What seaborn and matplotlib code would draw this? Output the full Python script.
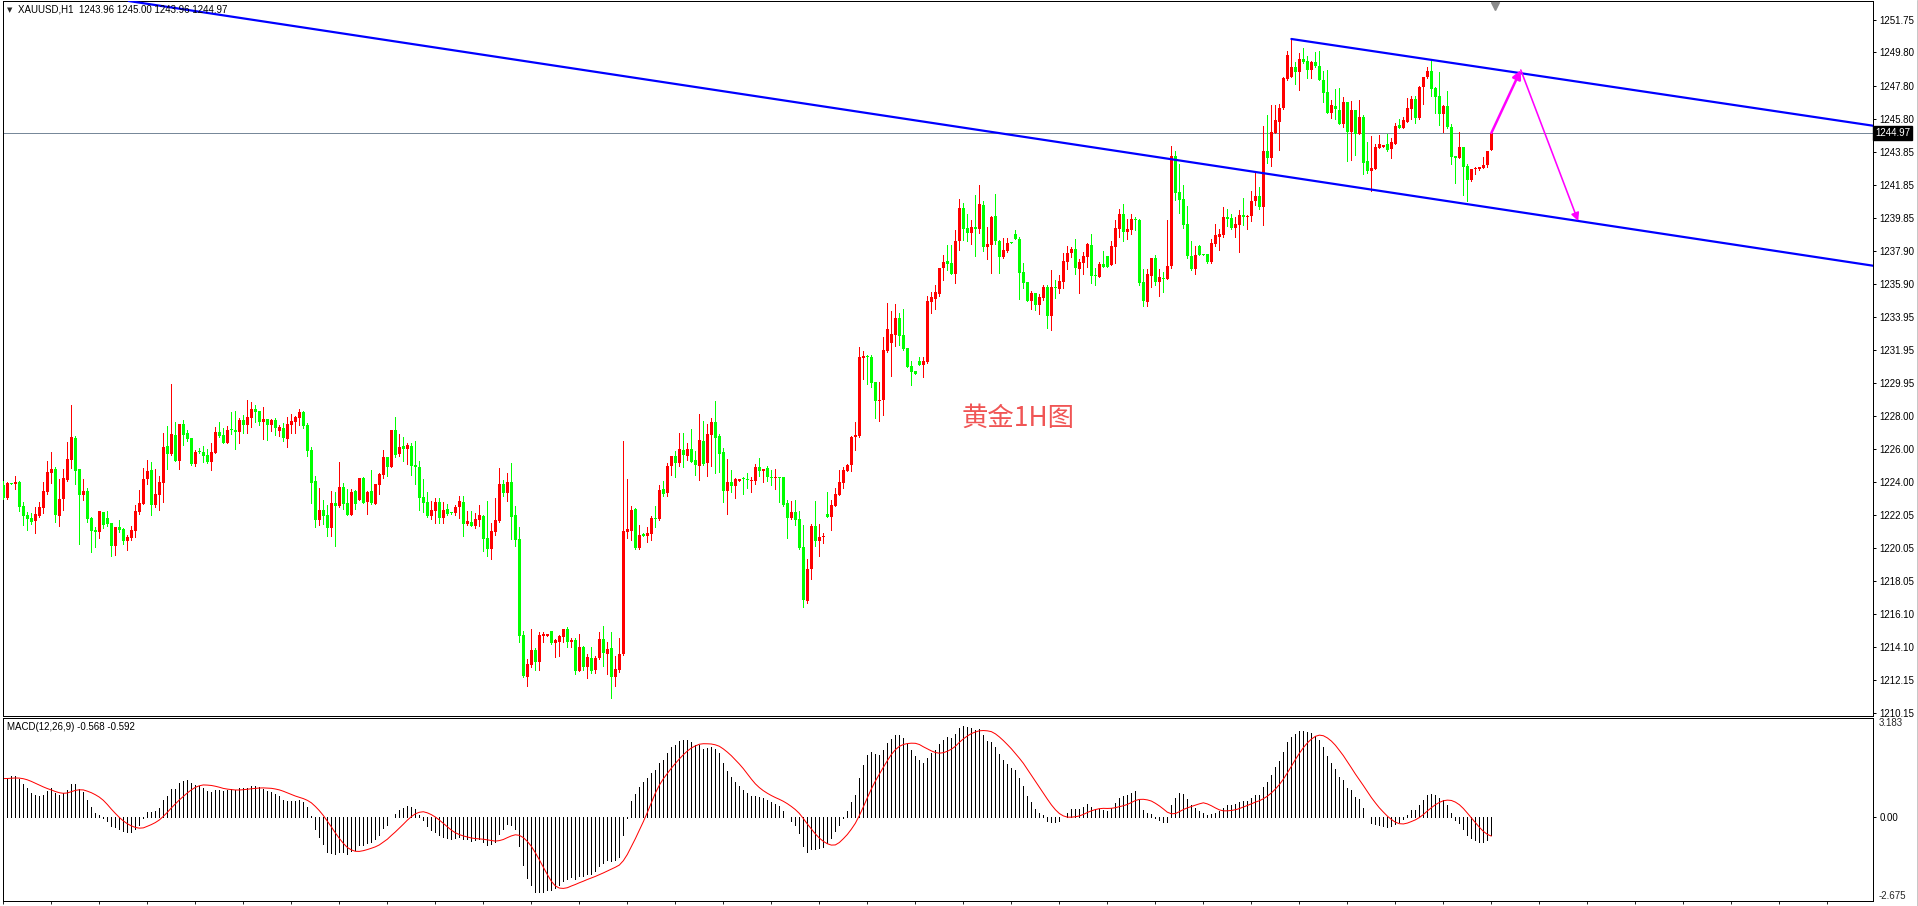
import matplotlib
matplotlib.use("Agg")
import matplotlib.pyplot as plt
import matplotlib.transforms as mtransforms
from matplotlib.lines import Line2D
import numpy as np
import pandas as pd
import seaborn as sns

# XAUUSD H1 candles (oldest -> newest)
opens = [
    1223.84, 1223.08, 1223.96, 1223.90, 1224.02, 1222.58, 1222.04, 1221.86, 1221.70, 1222.00,
    1222.48, 1223.42, 1224.58, 1224.80, 1222.00, 1223.02, 1224.14, 1225.36, 1226.66, 1224.80,
    1223.26, 1223.48, 1221.86, 1221.14, 1221.04, 1222.22, 1221.86, 1221.56, 1220.20, 1221.32,
    1221.20, 1220.50, 1220.68, 1221.10, 1222.24, 1222.72, 1224.22, 1224.74, 1222.64, 1223.26,
    1223.98, 1226.18, 1225.72, 1226.84, 1225.30, 1227.50, 1226.96, 1226.66, 1225.10, 1225.90,
    1225.82, 1225.64, 1225.24, 1225.78, 1227.02, 1226.84, 1226.36, 1227.20, 1227.14, 1227.02,
    1227.74, 1227.44, 1227.86, 1228.40, 1228.28, 1227.62, 1227.80, 1227.44, 1227.74, 1227.08,
    1227.26, 1226.60, 1227.44, 1227.62, 1227.86, 1228.22, 1227.44, 1225.94, 1224.08, 1221.74,
    1222.34, 1222.04, 1221.28, 1222.76, 1222.60, 1223.72, 1222.76, 1222.04, 1223.48, 1222.96,
    1224.26, 1222.84, 1223.48, 1222.72, 1223.86,
    1224.45, 1225.53, 1224.93, 1227.15, 1225.71, 1226.19, 1226.01, 1226.19, 1225.05, 1224.93,
    1223.13, 1222.83, 1221.99, 1222.29, 1222.83, 1221.87, 1222.41, 1222.21, 1222.17, 1222.53,
    1222.83, 1221.51, 1221.63, 1221.39, 1221.75, 1221.99, 1220.67, 1220.01, 1221.03, 1221.69,
    1223.91, 1223.37, 1224.03, 1222.05, 1220.61, 1214.85, 1212.33, 1213.05, 1213.95, 1213.23,
    1214.79, 1214.79, 1215.09, 1214.37, 1214.43, 1214.73, 1215.21, 1214.43, 1214.55, 1212.69,
    1214.13, 1212.93, 1213.47, 1212.75, 1213.47, 1214.61, 1213.71, 1214.07, 1212.33, 1212.75,
    1213.71, 1221.03, 1221.09, 1222.41, 1220.07, 1220.91, 1220.79, 1220.91, 1221.87, 1221.81,
    1223.61, 1223.37, 1224.99, 1225.59, 1225.17, 1225.95, 1225.59, 1226.01, 1225.35, 1224.99,
    1226.49, 1225.17, 1226.85, 1227.63, 1226.79, 1225.83, 1223.49, 1224.03, 1223.79, 1224.09,
    1224.23, 1224.17, 1224.09, 1224.09, 1224.93,
    1224.69, 1224.87, 1224.33, 1224.25, 1224.33, 1224.33, 1222.77, 1221.87, 1222.23, 1221.81,
    1220.13, 1216.89, 1218.81, 1221.39, 1220.49, 1220.73, 1222.11, 1221.93, 1222.59, 1223.25,
    1223.97, 1224.69, 1225.05, 1226.73, 1226.79, 1231.47, 1231.59, 1231.53, 1230.03, 1228.89,
    1228.95, 1231.89, 1232.37, 1232.85, 1233.87, 1232.85, 1232.07, 1230.99, 1230.69, 1231.29,
    1231.05, 1231.23, 1234.83, 1235.01, 1235.31, 1236.87, 1237.29, 1237.17, 1236.51, 1238.49,
    1240.47, 1239.27, 1238.97, 1239.33, 1239.21, 1240.65, 1238.13, 1238.25, 1239.99, 1238.49,
    1237.53, 1237.89, 1238.43, 1238.91, 1238.61, 1236.63, 1236.03, 1234.89, 1235.37, 1234.65,
    1235.07, 1235.73, 1233.99, 1235.73, 1235.61, 1236.03, 1237.23, 1237.77, 1238.01, 1236.81,
    1237.17, 1237.53, 1238.25, 1236.45, 1236.33, 1237.11, 1237.59, 1237.05, 1238.13, 1239.21,
    1240.11, 1239.03, 1239.15, 1239.81, 1239.75,
    1236.03, 1234.83, 1236.39, 1237.47, 1236.03, 1236.27, 1236.21, 1236.99, 1243.59, 1241.43,
    1241.01, 1239.51, 1237.59, 1236.81, 1238.19, 1237.71, 1237.71, 1237.23, 1238.31, 1238.73,
    1238.85, 1239.93, 1239.87, 1239.27, 1239.45, 1240.05, 1239.93, 1239.99, 1240.89, 1241.19,
    1240.53, 1243.89, 1243.47, 1244.97, 1245.63, 1246.47, 1248.21, 1248.33, 1248.93, 1248.63,
    1249.41, 1249.29, 1248.75, 1249.23, 1248.99, 1248.15, 1247.43, 1246.17, 1246.59, 1246.35,
    1245.51, 1246.83, 1245.03, 1246.35, 1244.91, 1245.93, 1243.29, 1242.69, 1242.81, 1244.07,
    1244.13, 1244.31, 1244.01, 1244.31, 1245.45, 1245.27, 1245.63, 1246.41, 1247.01, 1245.87,
    1247.73, 1248.33, 1248.69, 1247.67, 1247.19, 1246.11, 1246.59, 1245.33, 1243.59, 1243.47,
    1244.13, 1242.99, 1242.15, 1242.81, 1242.81, 1242.87, 1243.05, 1243.96,
]
highs = [
    1224.10, 1224.04, 1223.98, 1224.38, 1224.08, 1222.82, 1222.22, 1222.14, 1222.52, 1222.82,
    1224.02, 1225.28, 1225.82, 1224.90, 1224.20, 1224.80, 1226.42, 1228.64, 1226.78, 1224.80,
    1224.20, 1223.66, 1221.94, 1221.34, 1222.28, 1222.22, 1222.28, 1221.56, 1221.32, 1221.74,
    1221.24, 1220.86, 1221.40, 1222.66, 1223.56, 1224.86, 1225.34, 1225.22, 1224.80, 1224.38,
    1226.96, 1227.38, 1229.90, 1227.62, 1227.50, 1227.74, 1227.14, 1226.66, 1225.94, 1226.06,
    1226.18, 1226.00, 1226.36, 1227.32, 1227.62, 1227.26, 1227.38, 1228.22, 1228.28, 1227.86,
    1228.04, 1228.94, 1228.82, 1228.64, 1228.28, 1228.52, 1227.80, 1227.80, 1227.86, 1227.44,
    1227.56, 1227.92, 1228.10, 1227.98, 1228.40, 1228.28, 1227.56, 1226.12, 1224.38, 1223.66,
    1222.94, 1222.64, 1223.48, 1223.42, 1225.22, 1223.96, 1223.60, 1223.60, 1223.54, 1224.26,
    1224.32, 1223.48, 1224.74, 1223.90, 1224.56,
    1225.95, 1225.53, 1227.15, 1227.93, 1226.91, 1226.73, 1226.37, 1226.37, 1226.49, 1225.29,
    1224.21, 1223.43, 1222.89, 1223.07, 1223.07, 1222.83, 1222.71, 1222.23, 1222.65, 1223.19,
    1223.19, 1222.29, 1222.29, 1222.17, 1222.65, 1222.05, 1222.89, 1221.57, 1223.07, 1224.87,
    1224.15, 1224.57, 1225.17, 1222.59, 1221.33, 1215.09, 1213.41, 1215.21, 1214.07, 1215.03,
    1215.03, 1214.91, 1215.09, 1214.61, 1214.85, 1215.21, 1215.33, 1214.67, 1214.67, 1214.91,
    1214.19, 1213.71, 1214.13, 1213.59, 1215.03, 1215.39, 1214.43, 1215.03, 1213.59, 1214.67,
    1226.49, 1224.21, 1222.59, 1222.47, 1221.45, 1220.97, 1221.33, 1221.99, 1222.59, 1223.85,
    1224.09, 1225.17, 1225.59, 1225.89, 1226.97, 1226.97, 1226.37, 1227.21, 1225.89, 1228.11,
    1227.69, 1227.51, 1227.87, 1228.89, 1226.91, 1226.07, 1225.41, 1224.75, 1224.27, 1224.21,
    1224.33, 1224.57, 1224.33, 1225.11, 1225.47,
    1224.81, 1224.99, 1224.75, 1224.81, 1224.33, 1224.33, 1222.95, 1222.89, 1222.95, 1222.29,
    1221.45, 1219.41, 1221.51, 1222.89, 1221.51, 1220.97, 1223.43, 1222.95, 1223.67, 1224.75,
    1224.93, 1225.11, 1226.79, 1227.63, 1232.13, 1231.89, 1231.65, 1231.65, 1230.03, 1230.03,
    1232.73, 1234.77, 1234.29, 1234.71, 1234.17, 1234.41, 1232.07, 1231.29, 1230.69, 1231.53,
    1231.53, 1235.19, 1235.43, 1235.85, 1236.87, 1237.65, 1238.25, 1238.25, 1239.15, 1241.01,
    1240.77, 1240.11, 1239.75, 1241.25, 1241.85, 1240.89, 1239.33, 1239.99, 1241.31, 1238.55,
    1238.67, 1238.67, 1238.43, 1239.15, 1238.73, 1237.17, 1236.03, 1235.49, 1235.37, 1235.31,
    1235.85, 1235.85, 1236.75, 1236.15, 1236.45, 1237.77, 1238.19, 1238.13, 1238.61, 1237.41,
    1237.83, 1238.37, 1238.91, 1236.87, 1237.23, 1237.89, 1237.59, 1238.49, 1239.75, 1240.41,
    1240.71, 1239.81, 1240.11, 1239.93, 1239.81,
    1236.81, 1236.81, 1237.47, 1237.65, 1236.81, 1236.63, 1239.75, 1244.19, 1243.89, 1243.11,
    1241.85, 1240.59, 1238.49, 1238.19, 1238.25, 1237.71, 1237.71, 1238.61, 1239.51, 1239.21,
    1240.53, 1240.41, 1240.11, 1239.93, 1240.35, 1241.07, 1240.05, 1241.49, 1242.69, 1241.73,
    1245.39, 1246.05, 1246.65, 1246.65, 1246.71, 1248.33, 1249.89, 1250.61, 1249.23, 1249.77,
    1250.07, 1249.59, 1249.29, 1249.83, 1249.89, 1248.69, 1248.75, 1246.95, 1247.61, 1247.67,
    1247.13, 1246.83, 1246.89, 1246.35, 1246.95, 1246.05, 1244.43, 1244.79, 1244.31, 1244.85,
    1244.25, 1244.91, 1244.67, 1245.57, 1245.81, 1245.93, 1247.07, 1247.19, 1247.19, 1247.79,
    1248.33, 1248.93, 1249.41, 1247.73, 1248.63, 1246.65, 1247.49, 1245.51, 1243.59, 1245.03,
    1244.13, 1243.11, 1242.81, 1242.93, 1242.93, 1243.53, 1243.83, 1245.00,
]
lows = [
    1222.98, 1223.02, 1223.90, 1223.62, 1222.30, 1221.46, 1221.16, 1221.52, 1220.98, 1221.94,
    1222.18, 1223.32, 1223.98, 1221.64, 1221.40, 1222.36, 1224.10, 1224.88, 1223.92, 1220.32,
    1222.94, 1221.64, 1219.84, 1220.14, 1220.68, 1221.24, 1221.40, 1219.60, 1219.66, 1221.04,
    1220.32, 1219.96, 1220.56, 1220.74, 1222.12, 1222.72, 1223.92, 1222.06, 1222.54, 1222.36,
    1222.84, 1224.82, 1225.66, 1225.30, 1224.82, 1226.26, 1226.48, 1225.06, 1224.98, 1225.76,
    1225.24, 1225.18, 1224.74, 1225.78, 1226.72, 1226.36, 1226.36, 1226.92, 1226.00, 1226.36,
    1226.96, 1226.96, 1227.32, 1227.62, 1227.44, 1226.60, 1226.54, 1227.08, 1226.84, 1226.78,
    1226.48, 1226.12, 1226.96, 1226.96, 1227.44, 1227.26, 1225.58, 1222.76, 1221.32, 1221.44,
    1221.52, 1220.80, 1220.80, 1220.20, 1222.54, 1222.42, 1222.04, 1222.04, 1222.42, 1222.96,
    1222.76, 1222.12, 1222.72, 1222.72, 1223.32,
    1224.23, 1224.35, 1224.93, 1225.53, 1225.59, 1225.29, 1225.11, 1224.45, 1223.91, 1222.35,
    1222.23, 1221.93, 1221.81, 1221.57, 1221.57, 1221.57, 1222.05, 1222.11, 1222.05, 1221.87,
    1220.79, 1221.45, 1221.39, 1221.27, 1221.39, 1219.89, 1219.59, 1219.41, 1220.85, 1221.63,
    1223.19, 1222.89, 1220.61, 1220.19, 1214.43, 1212.33, 1211.79, 1212.93, 1212.75, 1212.75,
    1214.43, 1214.79, 1214.31, 1213.53, 1213.59, 1214.43, 1214.13, 1214.13, 1212.51, 1212.69,
    1212.75, 1212.27, 1212.57, 1212.57, 1213.41, 1212.99, 1212.51, 1211.07, 1211.79, 1212.63,
    1213.65, 1220.67, 1220.55, 1220.01, 1220.01, 1220.79, 1220.43, 1220.55, 1221.33, 1221.75,
    1223.19, 1223.19, 1224.45, 1224.33, 1224.99, 1224.93, 1225.35, 1225.23, 1224.45, 1224.15,
    1225.05, 1224.39, 1224.99, 1224.57, 1224.63, 1222.83, 1222.11, 1223.43, 1223.07, 1224.09,
    1223.31, 1223.67, 1223.43, 1223.91, 1224.39,
    1224.03, 1224.09, 1223.85, 1223.61, 1222.83, 1222.59, 1220.67, 1221.81, 1221.45, 1220.01,
    1216.53, 1216.77, 1218.21, 1220.19, 1219.59, 1220.37, 1221.93, 1221.15, 1222.59, 1223.25,
    1223.67, 1224.69, 1224.69, 1225.95, 1226.73, 1230.21, 1229.91, 1229.73, 1227.87, 1227.69,
    1228.05, 1231.83, 1230.39, 1232.19, 1232.25, 1231.95, 1230.93, 1229.85, 1230.51, 1231.05,
    1230.33, 1231.17, 1234.17, 1234.41, 1235.19, 1236.15, 1236.75, 1236.51, 1235.97, 1237.95,
    1238.55, 1238.49, 1238.31, 1237.59, 1238.97, 1237.89, 1237.41, 1236.57, 1238.31, 1236.57,
    1237.47, 1237.83, 1238.37, 1238.61, 1235.01, 1235.67, 1234.89, 1234.41, 1234.35, 1234.11,
    1234.95, 1233.27, 1233.15, 1235.07, 1235.37, 1235.67, 1236.81, 1237.53, 1236.51, 1235.37,
    1236.51, 1236.93, 1235.97, 1235.85, 1236.33, 1236.93, 1236.93, 1237.05, 1237.17, 1238.73,
    1238.49, 1238.61, 1238.91, 1239.15, 1235.85,
    1234.59, 1234.59, 1235.73, 1235.85, 1235.19, 1235.43, 1236.21, 1236.87, 1240.95, 1240.17,
    1239.27, 1237.47, 1236.75, 1236.51, 1237.65, 1237.65, 1237.17, 1237.17, 1238.19, 1237.95,
    1238.73, 1239.39, 1239.21, 1238.73, 1237.83, 1239.45, 1239.21, 1239.69, 1240.65, 1240.41,
    1239.45, 1243.17, 1242.99, 1244.97, 1243.95, 1246.41, 1248.15, 1248.33, 1247.91, 1247.55,
    1249.17, 1248.27, 1248.27, 1248.93, 1248.15, 1246.83, 1246.17, 1245.87, 1245.81, 1245.51,
    1245.33, 1243.29, 1243.35, 1243.65, 1244.91, 1242.51, 1242.57, 1241.49, 1242.81, 1244.07,
    1244.13, 1243.89, 1243.47, 1244.31, 1245.27, 1245.27, 1245.63, 1245.81, 1245.57, 1245.81,
    1246.71, 1248.27, 1247.19, 1246.17, 1245.45, 1245.03, 1245.27, 1243.11, 1241.97, 1243.47,
    1241.25, 1240.89, 1242.09, 1242.51, 1242.75, 1242.87, 1242.93, 1243.96,
]
closes = [
    1223.04, 1223.94, 1223.92, 1224.02, 1222.54, 1222.00, 1221.80, 1221.64, 1222.10, 1222.52,
    1223.48, 1224.62, 1224.80, 1222.04, 1223.00, 1224.26, 1225.40, 1226.72, 1224.70, 1223.26,
    1223.48, 1221.80, 1221.10, 1221.04, 1222.28, 1221.46, 1221.52, 1220.20, 1221.32, 1221.14,
    1220.50, 1220.72, 1221.14, 1222.28, 1222.76, 1224.20, 1224.68, 1222.64, 1223.30, 1224.02,
    1226.12, 1225.72, 1226.90, 1225.30, 1227.50, 1226.84, 1226.60, 1225.10, 1225.82, 1225.84,
    1225.60, 1225.24, 1225.82, 1227.02, 1226.78, 1226.36, 1227.14, 1227.14, 1227.02, 1227.74,
    1227.44, 1227.92, 1228.40, 1228.22, 1227.62, 1227.80, 1227.44, 1227.74, 1227.26, 1227.32,
    1226.66, 1227.50, 1227.68, 1227.92, 1228.22, 1227.38, 1225.88, 1223.96, 1221.74, 1222.34,
    1222.00, 1221.28, 1222.76, 1222.60, 1223.72, 1222.72, 1222.04, 1223.42, 1222.72, 1224.26,
    1222.76, 1223.42, 1222.78, 1223.90, 1224.50,
    1225.53, 1224.93, 1227.15, 1225.65, 1226.13, 1226.01, 1226.25, 1224.99, 1224.93, 1223.07,
    1222.77, 1221.99, 1222.35, 1222.83, 1221.87, 1222.35, 1222.11, 1222.15, 1222.53, 1222.89,
    1221.51, 1221.69, 1221.39, 1221.81, 1222.05, 1220.61, 1220.01, 1221.09, 1221.75, 1223.91,
    1223.37, 1224.03, 1221.93, 1220.55, 1214.79, 1212.39, 1213.11, 1213.95, 1213.23, 1214.85,
    1214.91, 1214.91, 1214.37, 1214.55, 1214.79, 1215.21, 1214.43, 1214.55, 1212.69, 1214.13,
    1212.93, 1213.53, 1212.69, 1213.47, 1214.61, 1213.77, 1214.01, 1212.33, 1212.81, 1213.71,
    1221.09, 1221.21, 1222.35, 1220.07, 1220.85, 1220.79, 1220.97, 1221.87, 1221.81, 1223.55,
    1223.31, 1224.99, 1225.59, 1225.17, 1226.01, 1225.65, 1226.01, 1225.23, 1225.05, 1226.55,
    1225.11, 1226.91, 1227.63, 1226.67, 1225.71, 1223.49, 1224.03, 1223.79, 1224.21, 1224.21,
    1224.17, 1224.11, 1224.15, 1224.93, 1224.69,
    1224.81, 1224.33, 1224.27, 1224.29, 1224.27, 1222.65, 1221.87, 1222.23, 1221.75, 1220.07,
    1216.95, 1218.81, 1221.39, 1220.49, 1220.73, 1220.79, 1221.93, 1222.65, 1223.31, 1224.03,
    1224.75, 1225.05, 1226.73, 1226.85, 1231.53, 1231.59, 1231.53, 1229.97, 1228.89, 1228.95,
    1231.95, 1233.21, 1232.91, 1233.87, 1232.79, 1232.01, 1230.93, 1230.63, 1230.51, 1231.05,
    1231.29, 1234.89, 1235.13, 1235.43, 1236.87, 1237.23, 1237.11, 1236.51, 1238.49, 1240.47,
    1239.21, 1238.97, 1239.33, 1239.21, 1240.71, 1238.13, 1238.31, 1239.93, 1238.49, 1237.53,
    1237.95, 1238.37, 1238.37, 1238.61, 1236.57, 1235.97, 1234.89, 1235.37, 1234.65, 1235.13,
    1235.73, 1233.99, 1235.73, 1235.67, 1236.09, 1237.29, 1237.77, 1238.01, 1236.87, 1237.23,
    1237.59, 1238.31, 1236.39, 1236.39, 1237.11, 1236.93, 1236.93, 1238.19, 1239.27, 1240.11,
    1239.03, 1239.21, 1239.81, 1239.75, 1235.97,
    1234.89, 1236.51, 1237.47, 1236.03, 1236.33, 1236.21, 1236.99, 1243.59, 1241.37, 1240.95,
    1239.45, 1237.59, 1236.81, 1237.65, 1237.65, 1237.65, 1237.23, 1238.37, 1238.85, 1238.91,
    1239.93, 1239.81, 1239.27, 1239.51, 1240.05, 1239.93, 1239.99, 1240.89, 1241.19, 1240.53,
    1243.89, 1243.47, 1245.03, 1245.75, 1246.47, 1248.27, 1249.65, 1248.93, 1248.63, 1249.41,
    1249.23, 1248.75, 1249.23, 1248.99, 1248.15, 1247.37, 1246.17, 1246.65, 1246.41, 1245.51,
    1246.83, 1245.03, 1246.35, 1244.91, 1245.93, 1243.17, 1242.69, 1242.87, 1244.13, 1244.31,
    1244.25, 1243.95, 1244.43, 1245.39, 1245.27, 1245.75, 1246.47, 1247.01, 1245.87, 1247.73,
    1248.33, 1248.69, 1247.61, 1247.13, 1246.11, 1246.59, 1245.33, 1243.53, 1243.47, 1244.13,
    1242.93, 1242.15, 1242.81, 1242.87, 1242.93, 1243.05, 1243.89, 1244.97,
]

price_ticks = [1251.75, 1249.80, 1247.80, 1245.80, 1243.85, 1241.85, 1239.85, 1237.90,
               1235.90, 1233.95, 1231.95, 1229.95, 1228.00, 1226.00, 1224.00, 1222.05,
               1220.05, 1218.05, 1216.10, 1214.10, 1212.15, 1210.15]
last_price = 1244.97
header_text = "XAUUSD,H1  1243.96 1245.00 1243.96 1244.97"
macd_text = "MACD(12,26,9) -0.568 -0.592"
macd_limits = [-2.675, 3.183]
chart_label = "黄金1H图"

# EMA state on the bar just before the first visible one (history not on screen),
# estimated so that the MACD window starts where the picture does
ema_fast_seed = 1221.72
ema_slow_seed = 1220.54
signal_seed = 1.25

# hand-drawn objects (bar index, price)
trend_line = [(34.65, 1252.77), (467.4, 1237.00)]
channel_top = [(322, 1250.61), (470, 1245.31)]
arrow_path = [(372, 1244.97), (379.35, 1248.75), (393.7, 1239.68)]
label_pos = (253.7, 1227.86)

lengths = [len(opens), len(highs), len(lows), len(closes)]
if len(set(lengths)) != 1:
    raise ValueError(f"OHLC length mismatch: {lengths}")

# ---- MACD(12,26,9) ----
close_s = pd.Series([ema_fast_seed] + closes)
ema_fast = pd.Series([ema_fast_seed] + closes).ewm(span=12, adjust=False).mean()
ema_slow = pd.Series([ema_slow_seed] + closes).ewm(span=26, adjust=False).mean()
macd_main = (ema_fast - ema_slow).iloc[1:].reset_index(drop=True)
macd_hist = pd.Series([signal_seed] * 8 + list(macd_main))
macd_signal = macd_hist.rolling(9).mean().iloc[8:].reset_index(drop=True)

# ---- figure ----
sns.set_theme(style="white")
plt.rcParams["font.family"] = ["Liberation Sans", "DejaVu Sans"]

W, H = 1918, 906
PX = 0.72  # one pixel in points at dpi 100


def box(x0, y0, x1, y1):
    return [x0 / W, 1 - y1 / H, (x1 - x0) / W, (y1 - y0) / H]


fig = plt.figure(figsize=(W / 100, H / 100), dpi=100)
fig.patch.set_facecolor("white")
ax = fig.add_axes(box(2.7, 1, 1873, 716))
axm = fig.add_axes(box(2.7, 718, 1873, 901))

idx = np.arange(len(closes))
o = np.array(opens)
c = np.array(closes)
up = c >= o
colors = np.where(up, "#FF0000", "#00FF00")

x_lim = (-0.15, 467.4)

# candles
ax.vlines(idx, lows, highs, colors=colors, linewidth=PX, antialiased=False, zorder=3)
body_low = np.minimum(o, c)
body_h = np.maximum(np.abs(c - o), 0.06)
ax.bar(idx, body_h, bottom=body_low, width=0.75, color=colors, linewidth=0,
       antialiased=False, zorder=4)

ax.set_xlim(*x_lim)
ax.set_ylim(1209.97, 1252.89)

# trend lines
ax.axline(trend_line[0], trend_line[1], color="#0000FF", linewidth=2.2 * PX, zorder=5)
ax.plot([p[0] for p in channel_top], [p[1] for p in channel_top],
        color="#0000FF", linewidth=2.2 * PX, zorder=5)

# last price line
ax.axhline(last_price, color="#778899", linewidth=PX, zorder=2)

# arrows
ax.annotate("", xy=arrow_path[1], xytext=arrow_path[0],
            arrowprops=dict(arrowstyle="-|>", color="#FF00FF", lw=2.5 * PX,
                            mutation_scale=13, shrinkA=0, shrinkB=0), zorder=6)
ax.annotate("", xy=arrow_path[2], xytext=arrow_path[1],
            arrowprops=dict(arrowstyle="-|>", color="#FF00FF", lw=1.6 * PX,
                            mutation_scale=12, shrinkA=0, shrinkB=0), zorder=6)

# label in the middle of the chart
ax.text(label_pos[0], label_pos[1], chart_label, color="#F05555", fontsize=19,
        fontweight="light", family=["Noto Sans CJK SC", "DejaVu Sans"],
        ha="center", va="center", zorder=6)

# price axis on the right
ax.yaxis.tick_right()
ax.set_yticks(price_ticks)
ax.set_yticklabels([f"{v:.2f}" for v in price_ticks])
ax.tick_params(axis="y", right=True, left=False, length=3 * PX, width=PX, pad=2.5,
               labelsize=7, colors="black", direction="out")
ax.set_xticks([])
for s in ax.spines.values():
    s.set_color("black")
    s.set_linewidth(PX)

# last price tag
blend = mtransforms.blended_transform_factory(ax.transAxes, ax.transData)
ax.text(1.0012, last_price, f"{last_price:.2f}", transform=blend, color="white",
        fontsize=7, va="center", ha="left", clip_on=False, zorder=7,
        bbox=dict(boxstyle="square,pad=0.18", facecolor="black", edgecolor="black"))

# chart shift marker
top_blend = mtransforms.blended_transform_factory(ax.transData, ax.transAxes)
ax.plot([idx[-1] + 0.8], [0.993], marker="v", markersize=6, color="#8C8C8C",
        transform=top_blend, clip_on=False, zorder=7)

# header text
fig.text(7 / W, 1 - 10 / H, "▼", fontsize=5, family=["DejaVu Sans"], va="center")
fig.text(18 / W, 1 - 10 / H, header_text, fontsize=7, va="center", color="black")

# ---- MACD window ----
axm.vlines(idx, 0, macd_main, colors="black", linewidth=PX, antialiased=False)
sns.lineplot(x=idx, y=macd_signal.values, ax=axm, color="#FF0000", linewidth=PX,
             legend=False)
axm.set_xlim(*x_lim)
axm.set_ylim(*macd_limits)
axm.set_xticks(np.arange(0, 468, 12))
axm.set_xticklabels([])
axm.tick_params(axis="x", bottom=True, length=3 * PX, width=PX, direction="out")
axm.yaxis.tick_right()
axm.set_yticks([0])
axm.set_yticklabels(["0.00"])
axm.tick_params(axis="y", right=True, left=False, length=3 * PX, width=PX, pad=2.5,
                labelsize=7, colors="black")
axm.set_ylabel("")
for s in axm.spines.values():
    s.set_color("black")
    s.set_linewidth(PX)

mblend = mtransforms.blended_transform_factory(axm.transAxes, axm.transData)
axm.text(1.003, macd_limits[1], f"{macd_limits[1]:.3f}", transform=mblend, fontsize=7,
         va="top", ha="left", clip_on=False)
axm.text(1.003, macd_limits[0], f"{macd_limits[0]:.3f}", transform=mblend, fontsize=7,
         va="bottom", ha="left", clip_on=False)
fig.text(7 / W, 1 - 727 / H, macd_text, fontsize=7, va="center", color="black")

# thin frame line at the far right
fig.add_artist(Line2D([1916.5 / W] * 2, [0, 1], color="#C8C8C8", linewidth=PX))

fig.savefig("out.png", dpi=100, facecolor="white")
